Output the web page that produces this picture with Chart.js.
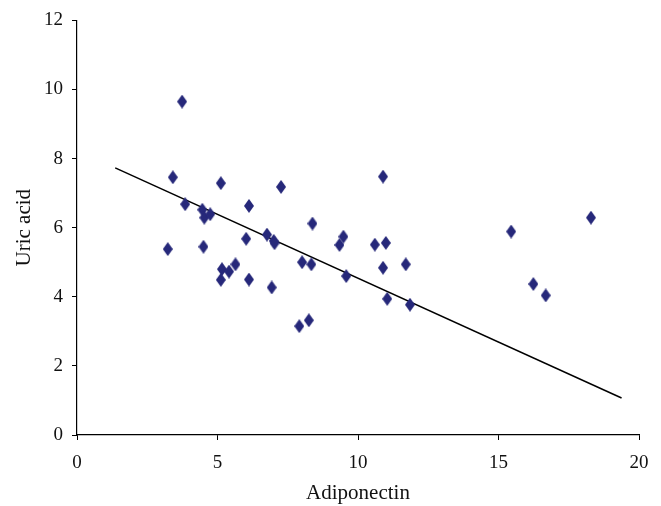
<!DOCTYPE html>
<html>
<head>
<meta charset="utf-8">
<script src="https://cdn.jsdelivr.net/npm/chart.js@4"></script>
<style>
  body { margin: 0; background: #fff; }
</style>
</head>
<body>
<canvas id="grafico" width="661" height="506"></canvas>
<script>
// dados
const adiponectin = [3.23, 3.41, 3.74, 3.85, 4.46, 4.53, 4.74, 4.50, 5.12, 5.16,
    5.41, 5.64, 5.12, 6.12, 6.02, 6.12, 6.76, 7.00, 7.03, 6.93,
    7.26, 8.38, 8.01, 8.34, 7.91, 8.25, 9.48, 9.34, 9.58, 10.89,
    10.60, 10.99, 10.89, 11.70, 11.04, 11.85, 15.45, 18.29, 16.24, 16.68];
const uricAcid = [5.38, 7.46, 9.65, 6.68, 6.52, 6.29, 6.39, 5.45, 7.29, 4.80,
    4.73, 4.94, 4.49, 6.63, 5.68, 4.50, 5.80, 5.62, 5.55, 4.27,
    7.18, 6.12, 5.00, 4.94, 3.15, 3.32, 5.74, 5.50, 4.60, 7.48,
    5.51, 5.56, 4.84, 4.94, 3.94, 3.77, 5.89, 6.29, 4.37, 4.04];
const trendX = [1.36, 19.38];
const trendY = [7.73, 1.07];
const xTicks = [0, 5, 10, 15, 20];
const yTicks = [0, 2, 4, 6, 8, 10, 12];

// losango mais alto que largo
function diamante(w, h, cor) {
    const c = document.createElement('canvas');
    c.width = w;
    c.height = h;
    const g = c.getContext('2d');
    g.fillStyle = cor;
    g.beginPath();
    g.moveTo(w / 2, 0);
    g.lineTo(w, h / 2);
    g.lineTo(w / 2, h);
    g.lineTo(0, h / 2);
    g.closePath();
    g.fill();
    return c;
}

const fonte = "'Liberation Serif', 'Times New Roman', serif";
const pontos = adiponectin.map((x, i) => ({ x: x, y: uricAcid[i] }));
const linha = trendX.map((x, i) => ({ x: x, y: trendY[i] }));

const ctx = document.getElementById('grafico').getContext('2d');
new Chart(ctx, {
    type: 'scatter',
    data: {
        datasets: [
            {
                label: 'Uric acid',
                data: pontos,
                pointStyle: diamante(10, 14, '#26287a'),
                pointRadius: 7,
                pointHoverRadius: 7
            },
            {
                type: 'line',
                label: 'Trend',
                data: linha,
                borderColor: '#000',
                borderWidth: 1.5,
                pointRadius: 0,
                fill: false
            }
        ]
    },
    options: {
        responsive: false,
        animation: false,
        layout: { padding: { left: 0, right: 22, top: 19, bottom: 0 } },
        plugins: {
            legend: { display: false },
            tooltip: { enabled: false }
        },
        scales: {
            x: {
                type: 'linear',
                min: 0,
                max: 20,
                afterFit: s => { s.height = 71; },
                afterBuildTicks: s => { s.ticks = xTicks.map(v => ({ value: v })); },
                grid: { drawOnChartArea: false, color: '#000', tickLength: 5 },
                border: { color: '#000', width: 1.2 },
                ticks: { color: '#111', padding: 12, maxRotation: 0, font: { family: fonte, size: 19 } },
                title: { display: true, text: 'Adiponectin', color: '#111', padding: { top: 0, bottom: 0 }, font: { family: fonte, size: 21 } }
            },
            y: {
                type: 'linear',
                min: 0,
                max: 12,
                afterFit: s => { s.width = 77; },
                afterBuildTicks: s => { s.ticks = yTicks.map(v => ({ value: v })); },
                grid: { drawOnChartArea: false, color: '#000', tickLength: 5 },
                border: { color: '#000', width: 1.2 },
                ticks: { color: '#111', padding: 9, font: { family: fonte, size: 19 } },
                title: { display: true, text: 'Uric acid', color: '#111', padding: { top: 12, bottom: 0 }, font: { family: fonte, size: 21 } }
            }
        }
    }
});
</script>
</body>
</html>
